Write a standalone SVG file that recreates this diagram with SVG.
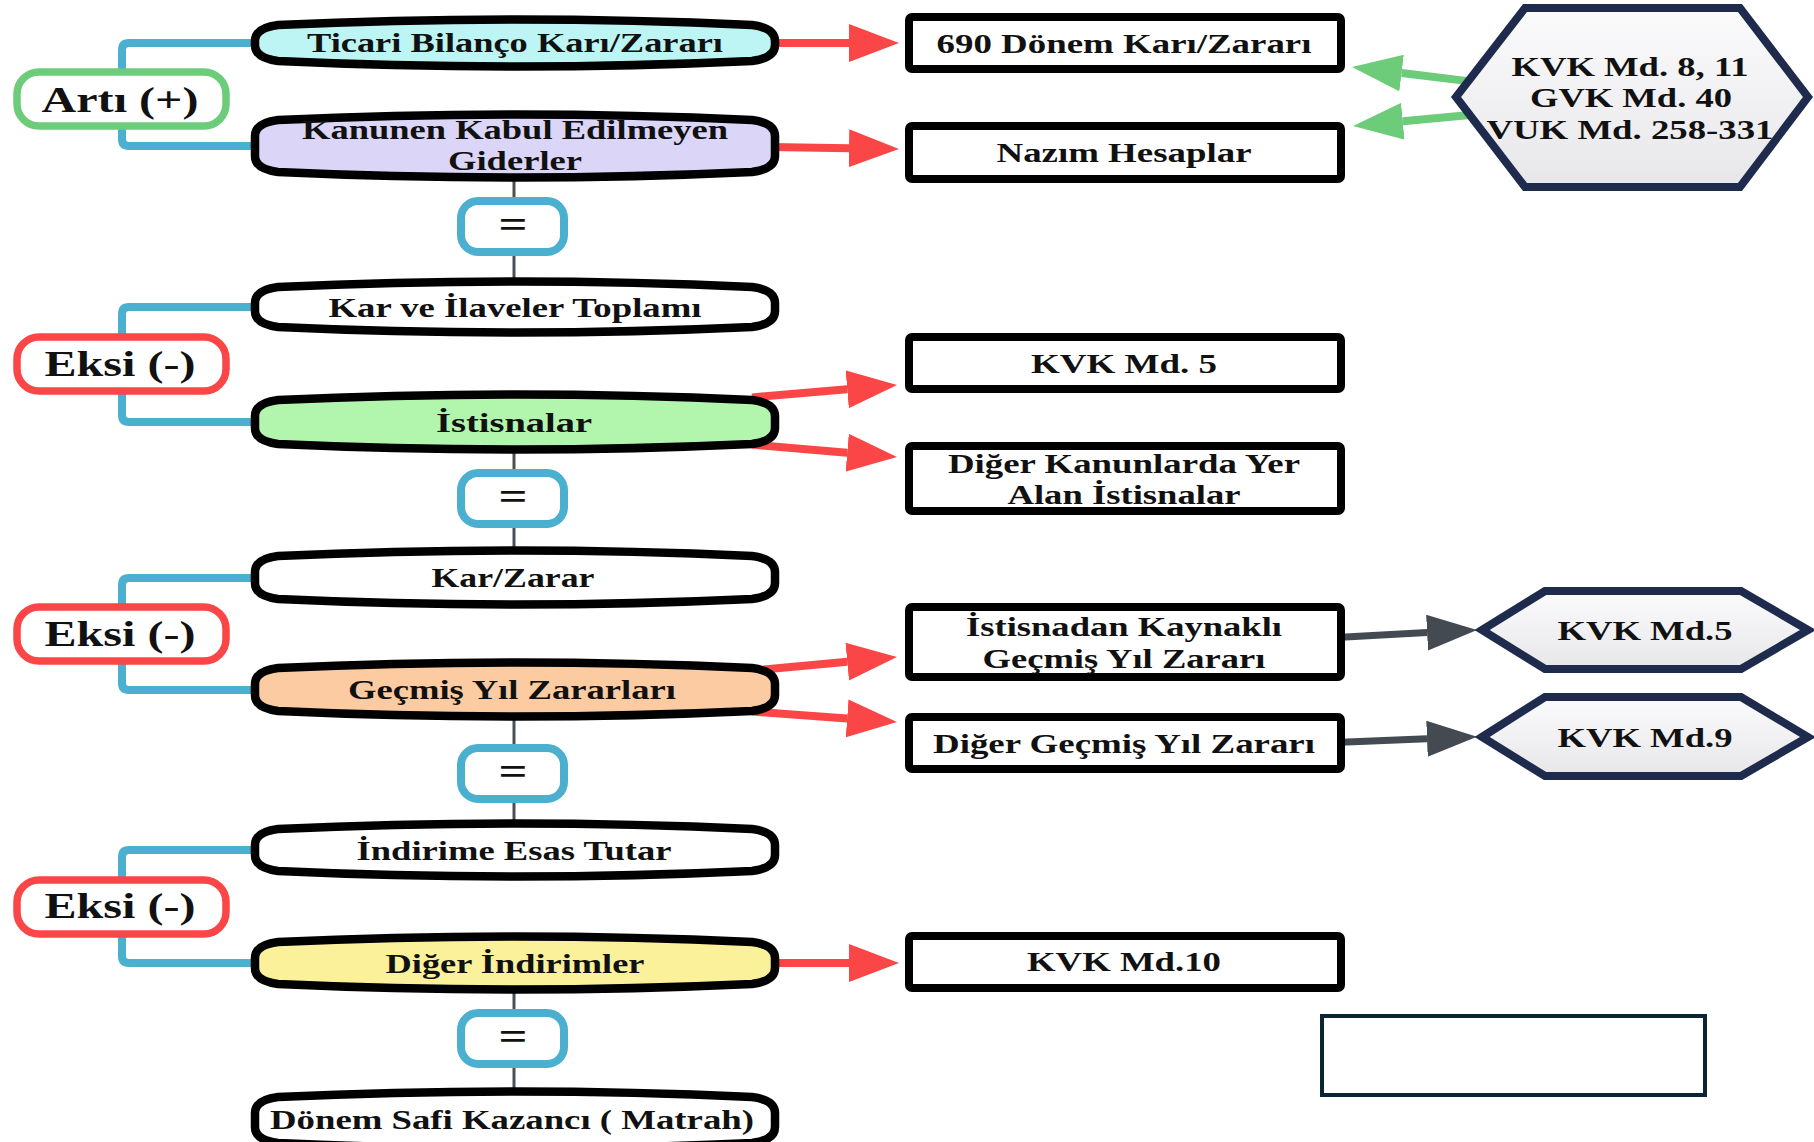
<svg xmlns="http://www.w3.org/2000/svg" width="1814" height="1142" viewBox="0 0 1814 1142">
<style>
text{font-family:"Liberation Serif","Times New Roman",serif;font-weight:bold;fill:#111;text-anchor:middle}
.t{font-size:28px}
.s{font-size:35px}
.eqt{font-size:40px}
.pill{stroke:#000;stroke-width:8.5;stroke-linejoin:round}
.box{fill:#fff;stroke:#000;stroke-width:8}
.hex{fill:url(#hg);stroke:#1e2b4d;stroke-width:8;stroke-linejoin:miter}
.sign{fill:#fff;stroke-width:7.5}
.eq{fill:#fff;stroke:#4bafd0;stroke-width:8}
.br{fill:none;stroke:#4bafd0;stroke-width:8}
.gl{stroke:#4a4f55;stroke-width:3}
.ra{stroke:#fa4646;stroke-width:8;marker-end:url(#mr)}
.ga{stroke:#6dcc79;stroke-width:8;marker-end:url(#mg)}
.da{stroke:#444a52;stroke-width:7;marker-end:url(#md)}
</style>
<defs>
<linearGradient id="hg" x1="0" y1="0" x2="0" y2="1"><stop offset="0" stop-color="#fbfbfc"/><stop offset="1" stop-color="#e7e7ea"/></linearGradient>
<marker id="mr" markerUnits="userSpaceOnUse" markerWidth="50" markerHeight="38" refX="0" refY="19" orient="auto"><path d="M0,0 L50,19 L0,38 Z" fill="#fa4646"/></marker>
<marker id="mg" markerUnits="userSpaceOnUse" markerWidth="50" markerHeight="37" refX="0" refY="18.5" orient="auto"><path d="M0,0 L50,18.5 L0,37 Z" fill="#6dcc79"/></marker>
<marker id="md" markerUnits="userSpaceOnUse" markerWidth="50" markerHeight="36" refX="0" refY="18" orient="auto"><path d="M0,0 L50,18 L0,36 Z" fill="#444a52"/></marker>
</defs>
<rect width="1814" height="1142" fill="#fff"/>
<g id="connectors">
<path class="br" d="M122,80 L122,50 Q122,43 129,43 L258,43"/>
<path class="br" d="M122,120 L122,139 Q122,146 129,146 L258,146"/>
<path class="br" d="M122,345 L122,314 Q122,307 129,307 L258,307"/>
<path class="br" d="M122,385 L122,415 Q122,422 129,422 L258,422"/>
<path class="br" d="M122,615 L122,585 Q122,578 129,578 L258,578"/>
<path class="br" d="M122,655 L122,683 Q122,690 129,690 L258,690"/>
<path class="br" d="M122,885 L122,857 Q122,850 129,850 L258,850"/>
<path class="br" d="M122,930 L122,956 Q122,963 129,963 L258,963"/>
<line class="gl" x1="514" y1="176" x2="514" y2="283"/>
<line class="gl" x1="514" y1="448" x2="514" y2="552"/>
<line class="gl" x1="514" y1="715" x2="514" y2="825"/>
<line class="gl" x1="514" y1="988" x2="514" y2="1093"/>
<line class="ra" x1="770" y1="43" x2="849" y2="43"/>
<line class="ra" x1="770" y1="147" x2="849" y2="148.2"/>
<line class="ra" x1="752" y1="397.4" x2="847.2" y2="389.3"/>
<line class="ra" x1="752" y1="444.6" x2="847.2" y2="452.7"/>
<line class="ra" x1="764" y1="669.5" x2="847.2" y2="661.7"/>
<line class="ra" x1="752" y1="711.6" x2="847.1" y2="718.4"/>
<line class="ra" x1="770" y1="963" x2="849" y2="963"/>
<line class="ga" x1="1470" y1="81.4" x2="1401.6" y2="73"/>
<line class="ga" x1="1470" y1="115" x2="1402.8" y2="121.3"/>
<line class="da" x1="1341" y1="637.2" x2="1427.1" y2="632.6"/>
<line class="da" x1="1341" y1="742.2" x2="1427" y2="738.8"/>
</g>
<g id="n-arti"><rect class="sign" x="17" y="72" width="209" height="54" rx="22" stroke="#6dcc79"/><text class="s" x="120" y="112" textLength="157" lengthAdjust="spacingAndGlyphs">Artı (+)</text></g>
<g id="n-eksi1"><rect class="sign" x="17" y="337" width="209" height="54" rx="22" stroke="#fa4646"/><text class="s" x="120" y="376" textLength="151" lengthAdjust="spacingAndGlyphs">Eksi (-)</text></g>
<g id="n-eksi2"><rect class="sign" x="17" y="607" width="209" height="54" rx="22" stroke="#fa4646"/><text class="s" x="120" y="646" textLength="151" lengthAdjust="spacingAndGlyphs">Eksi (-)</text></g>
<g id="n-eksi3"><rect class="sign" x="17" y="880" width="209" height="54" rx="22" stroke="#fa4646"/><text class="s" x="120" y="918" textLength="151" lengthAdjust="spacingAndGlyphs">Eksi (-)</text></g>
<g id="n-ticari"><path class="pill" fill="#bdf5f5" d="M278,25 Q515,14 752,25 Q775,28 775,41 L775,45 Q775,58 752,61 Q515,72 278,61 Q255,58 255,45 L255,41 Q255,28 278,25 Z"/><text class="t" x="515" y="52" textLength="416" lengthAdjust="spacingAndGlyphs">Ticari Bilanço Karı/Zararı</text></g>
<g id="n-kkeg"><path class="pill" fill="#dbd5f7" d="M278,120 Q515,109 752,120 Q775,123 775,136 L775,156 Q775,169 752,172 Q515,183 278,172 Q255,169 255,156 L255,136 Q255,123 278,120 Z"/><text class="t" x="515" y="139" textLength="426" lengthAdjust="spacingAndGlyphs">Kanunen Kabul Edilmeyen</text><text class="t" x="515" y="170" textLength="134" lengthAdjust="spacingAndGlyphs">Giderler</text></g>
<g id="n-eq1"><rect class="eq" x="461" y="201" width="103" height="51" rx="17"/><text class="eqt" x="513" y="238" textLength="29" lengthAdjust="spacingAndGlyphs">=</text></g>
<g id="n-karilave"><path class="pill" fill="#fff" d="M278,287 Q515,276 752,287 Q775,290 775,303 L775,311 Q775,324 752,327 Q515,338 278,327 Q255,324 255,311 L255,303 Q255,290 278,287 Z"/><text class="t" x="515" y="317" textLength="373" lengthAdjust="spacingAndGlyphs">Kar ve İlaveler Toplamı</text></g>
<g id="n-istisnalar"><path class="pill" fill="#b2f5ad" d="M278,400 Q515,389 752,400 Q775,403 775,416 L775,428 Q775,441 752,444 Q515,455 278,444 Q255,441 255,428 L255,416 Q255,403 278,400 Z"/><text class="t" x="514" y="432" textLength="156" lengthAdjust="spacingAndGlyphs">İstisnalar</text></g>
<g id="n-eq2"><rect class="eq" x="461" y="473" width="103" height="51" rx="17"/><text class="eqt" x="513" y="510" textLength="29" lengthAdjust="spacingAndGlyphs">=</text></g>
<g id="n-karzarar"><path class="pill" fill="#fff" d="M278,556 Q515,545 752,556 Q775,559 775,572 L775,583 Q775,596 752,599 Q515,610 278,599 Q255,596 255,583 L255,572 Q255,559 278,556 Z"/><text class="t" x="513" y="587" textLength="163" lengthAdjust="spacingAndGlyphs">Kar/Zarar</text></g>
<g id="n-gecmis"><path class="pill" fill="#fccba2" d="M278,668 Q515,657 752,668 Q775,671 775,684 L775,695 Q775,708 752,711 Q515,722 278,711 Q255,708 255,695 L255,684 Q255,671 278,668 Z"/><text class="t" x="512" y="699" textLength="328" lengthAdjust="spacingAndGlyphs">Geçmiş Yıl Zararları</text></g>
<g id="n-eq3"><rect class="eq" x="461" y="748" width="103" height="51" rx="17"/><text class="eqt" x="513" y="785" textLength="29" lengthAdjust="spacingAndGlyphs">=</text></g>
<g id="n-indirime"><path class="pill" fill="#fff" d="M278,829 Q515,818 752,829 Q775,832 775,845 L775,855 Q775,868 752,871 Q515,882 278,871 Q255,868 255,855 L255,845 Q255,832 278,829 Z"/><text class="t" x="514" y="860" textLength="315" lengthAdjust="spacingAndGlyphs">İndirime Esas Tutar</text></g>
<g id="n-digerind"><path class="pill" fill="#fbf19b" d="M278,942 Q515,931 752,942 Q775,945 775,958 L775,968 Q775,981 752,984 Q515,995 278,984 Q255,981 255,968 L255,958 Q255,945 278,942 Z"/><text class="t" x="515" y="973" textLength="259" lengthAdjust="spacingAndGlyphs">Diğer İndirimler</text></g>
<g id="n-eq4"><rect class="eq" x="461" y="1013" width="103" height="51" rx="17"/><text class="eqt" x="513" y="1050" textLength="29" lengthAdjust="spacingAndGlyphs">=</text></g>
<g id="n-matrah"><path class="pill" fill="#fff" d="M278,1097 Q515,1086 752,1097 Q775,1100 775,1113 L775,1127 Q775,1140 752,1143 Q515,1154 278,1143 Q255,1140 255,1127 L255,1113 Q255,1100 278,1097 Z"/><text class="t" x="512" y="1129" textLength="484" lengthAdjust="spacingAndGlyphs">Dönem Safi Kazancı ( Matrah)</text></g>
<g id="n-690"><rect class="box" x="909" y="17" width="432" height="52" rx="3"/><text class="t" x="1124" y="53" textLength="375" lengthAdjust="spacingAndGlyphs">690 Dönem Karı/Zararı</text></g>
<g id="n-nazim"><rect class="box" x="909" y="126" width="432" height="53" rx="3"/><text class="t" x="1124" y="162" textLength="255" lengthAdjust="spacingAndGlyphs">Nazım Hesaplar</text></g>
<g id="n-kvk8"><polygon class="hex" points="1525,8 1740,8 1808,97 1740,187 1525,187 1456,97"/><text class="t" x="1630" y="76" textLength="237" lengthAdjust="spacingAndGlyphs">KVK Md. 8, 11</text><text class="t" x="1631" y="107" textLength="202" lengthAdjust="spacingAndGlyphs">GVK Md. 40</text><text class="t" x="1630" y="139" textLength="287" lengthAdjust="spacingAndGlyphs">VUK Md. 258-331</text></g>
<g id="n-kvk5a"><rect class="box" x="909" y="337" width="432" height="52" rx="3"/><text class="t" x="1124" y="373" textLength="186" lengthAdjust="spacingAndGlyphs">KVK Md. 5</text></g>
<g id="n-diger-kan"><rect class="box" x="909" y="446" width="432" height="65" rx="3"/><text class="t" x="1124" y="473" textLength="352" lengthAdjust="spacingAndGlyphs">Diğer Kanunlarda Yer</text><text class="t" x="1124" y="504" textLength="233" lengthAdjust="spacingAndGlyphs">Alan İstisnalar</text></g>
<g id="n-ist-gyz"><rect class="box" x="909" y="607" width="432" height="70" rx="3"/><text class="t" x="1124" y="636" textLength="316" lengthAdjust="spacingAndGlyphs">İstisnadan Kaynaklı</text><text class="t" x="1124" y="668" textLength="283" lengthAdjust="spacingAndGlyphs">Geçmiş Yıl Zararı</text></g>
<g id="n-diger-gyz"><rect class="box" x="909" y="717" width="432" height="52" rx="3"/><text class="t" x="1124" y="753" textLength="382" lengthAdjust="spacingAndGlyphs">Diğer Geçmiş Yıl Zararı</text></g>
<g id="n-kvk5b"><polygon class="hex" points="1482,630 1545,591 1741,591 1808,630 1741,669 1545,669"/><text class="t" x="1645" y="640" textLength="175" lengthAdjust="spacingAndGlyphs">KVK Md.5</text></g>
<g id="n-kvk9"><polygon class="hex" points="1482,737 1545,697 1741,697 1808,737 1741,776 1545,776"/><text class="t" x="1645" y="747" textLength="175" lengthAdjust="spacingAndGlyphs">KVK Md.9</text></g>
<g id="n-kvk10"><rect class="box" x="909" y="936" width="432" height="52" rx="3"/><text class="t" x="1124" y="971" textLength="194" lengthAdjust="spacingAndGlyphs">KVK Md.10</text></g>
<g id="n-empty"><rect x="1322" y="1016" width="383" height="79" fill="#fff" stroke="#0c2535" stroke-width="4"/></g>
</svg>
